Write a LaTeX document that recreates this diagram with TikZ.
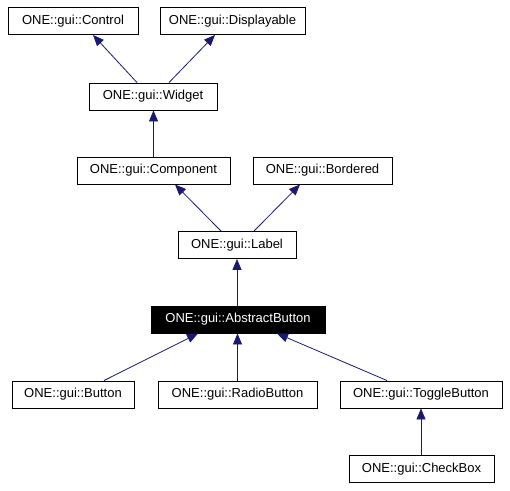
\documentclass[tikz,border=0pt]{standalone}
\usepackage{fontspec}
\setmainfont{Liberation Sans}
\usetikzlibrary{arrows.meta}
\definecolor{edgeblue}{HTML}{191970}
\begin{document}
\begin{tikzpicture}[x=1pt,y=-1pt,
  cls/.style={draw=black, line width=0.9pt, rectangle, inner sep=0pt,
    minimum height=27pt, font=\fontsize{13}{15}\selectfont, fill=white},
  cur/.style={cls, fill=black, text=white},
  edge/.style={draw=edgeblue, line width=0.8pt,
    -{Triangle[length=11pt,width=9pt]}, edgeblue}]
\useasboundingbox (0,0) rectangle (510,490);
\node[cls, minimum width=130pt] (Control) at (73,21) {ONE::gui::Control};
\node[cls, minimum width=145pt] (Displayable) at (232.5,21) {ONE::gui::Displayable};
\node[cls, minimum width=128pt] (Widget) at (153,96.5) {ONE::gui::Widget};
\node[cls, minimum width=153pt] (Component) at (153.5,170.5) {ONE::gui::Component};
\node[cls, minimum width=139pt] (Bordered) at (322.5,170.5) {ONE::gui::Bordered};
\node[cls, minimum width=118pt] (Label) at (237,245) {ONE::gui::Label};
\node[cur, minimum width=174pt] (AbstractButton) at (238,319.5) {ONE::gui::AbstractButton};
\node[cls, minimum width=122pt] (Button) at (73,394.5) {ONE::gui::Button};
\node[cls, minimum width=159pt] (RadioButton) at (237.5,394.5) {ONE::gui::RadioButton};
\node[cls, minimum width=162pt] (ToggleButton) at (421,394.5) {ONE::gui::ToggleButton};
\node[cls, minimum width=145pt] (CheckBox) at (421.5,469) {ONE::gui::CheckBox};

\draw[edge] ([xshift=-16pt]Widget.north) -- ([xshift=20pt]Control.south);
\draw[edge] ([xshift=16pt]Widget.north) -- ([xshift=-17.5pt]Displayable.south);
\draw[edge] (Component.north) -- (Component.north |- Widget.south);
\draw[edge] ([xshift=-16pt]Label.north) -- ([xshift=21.5pt]Component.south);
\draw[edge] ([xshift=17pt]Label.north) -- ([xshift=-22.5pt]Bordered.south);
\draw[edge] (AbstractButton.north -| Label.south) -- (Label.south);
\draw[edge] ([xshift=31pt]Button.north) -- ([xshift=-40pt]AbstractButton.south);
\draw[edge] (RadioButton.north) -- (RadioButton.north |- AbstractButton.south);
\draw[edge] ([xshift=-34pt]ToggleButton.north) -- ([xshift=39pt]AbstractButton.south);
\draw[edge] (CheckBox.north -| ToggleButton.south) -- (ToggleButton.south);
\end{tikzpicture}
\end{document}
